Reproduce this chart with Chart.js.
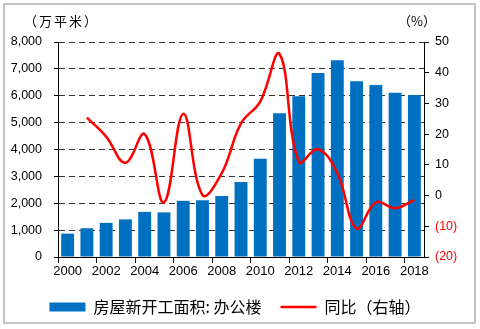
<!DOCTYPE html>
<html>
<head>
<meta charset="utf-8">
<script src="https://cdn.jsdelivr.net/npm/chart.js@4/dist/chart.umd.min.js"></script>
<style>
  body { margin: 0; background: #fff; }
  #wrap { position: relative; width: 480px; height: 329px; }
  #frame { position: absolute; left: 3px; top: 3px; width: 469px; height: 317px; border: 2px solid #c4c4c4; }
  #chart { position: absolute; left: 0; top: 0; }
  .unit { position: absolute; font-family: "Noto Sans CJK SC", sans-serif; font-size: 13px; color: #000; }
</style>
</head>
<body>
<div id="wrap">
  <div id="frame"></div>
  <canvas id="chart" width="480" height="329"></canvas>
  <div class="unit" style="left:24px; top:11px; letter-spacing:2px;">（万平米）</div>
  <div class="unit" style="left:398px; top:11px;">（%）</div>
</div>
<script>
// 办公楼新开工面积（万平米）与同比（%）
const years = ["2000", "2001", "2002", "2003", "2004", "2005", "2006", "2007", "2008", "2009",
  "2010", "2011", "2012", "2013", "2014", "2015", "2016", "2017", "2018"];
const floorArea = [870, 1070, 1270, 1400, 1680, 1660, 2090, 2110, 2270, 2790,
  3660, 5350, 5980, 6850, 7320, 6540, 6400, 6110, 6030];
const yoy = [null, 25.4, 19.2, 10.7, 20.0, -2.3, 26.6, 0.2, 7.3, 23.5,
  30.6, 46.1, 11.0, 15.1, 7.3, -10.7, -2.2, -4.1, -1.4];

Chart.defaults.font.family = "'Liberation Sans', Arial, sans-serif";
Chart.defaults.color = "#000";

const canvas = document.querySelector("#chart");

new Chart(canvas, {
  type: "bar",
  data: {
    labels: years,
    datasets: [{
      type: "bar",
      label: "房屋新开工面积: 办公楼",
      data: floorArea,
      yAxisID: "y",
      backgroundColor: "#0070c0",
      borderWidth: 0,
      pointStyle: "rect",
      categoryPercentage: 1,
      barPercentage: 0.67,
      order: 1
    }, {
      type: "line",
      label: "同比（右轴）",
      data: yoy,
      yAxisID: "y1",
      borderColor: "#ff0000",
      backgroundColor: "#ff0000",
      borderWidth: 2.5,
      pointRadius: 0,
      pointStyle: "line",
      tension: 0.4,
      order: 0
    }]
  },
  options: {
    responsive: false,
    animation: false,
    layout: {
      padding: { top: 42, bottom: 4, left: 0, right: 10 }
    },
    plugins: {
      tooltip: { enabled: false },
      legend: {
        position: "bottom",
        labels: {
          usePointStyle: true,
          pointStyleWidth: 36,
          boxHeight: 9,
          padding: 19,
          color: "#000",
          font: { family: "'Noto Sans CJK SC', sans-serif", size: 16 },
          sort: (a, b) => a.datasetIndex - b.datasetIndex
        }
      }
    },
    scales: {
      x: {
        afterFit: scale => { scale.height = 23; },
        border: { color: "#000", width: 1 },
        grid: {
          drawOnChartArea: false,
          tickLength: 6,
          tickColor: c => c.index % 2 === 0 ? "#000" : "rgba(0,0,0,0)"
        },
        ticks: {
          autoSkip: false,
          maxRotation: 0,
          padding: 1,
          font: { size: 13 },
          callback: (v, i) => i % 2 === 0 ? years[i] : ""
        }
      },
      y: {
        position: "left",
        min: 0,
        max: 8000,
        afterFit: scale => { scale.width = 58; },
        border: { color: "#000", width: 1, dash: [6, 4] },
        grid: {
          color: "#333",
          tickColor: "#000",
          tickBorderDash: [],
          tickLength: 4
        },
        ticks: {
          stepSize: 1000,
          padding: 12,
          font: { size: 12.5 },
          callback: v => v.toLocaleString("en-US")
        }
      },
      y1: {
        position: "right",
        min: -20,
        max: 50,
        afterFit: scale => { scale.width = 46; },
        border: { color: "#000", width: 1 },
        grid: {
          drawOnChartArea: false,
          tickColor: "#000",
          tickLength: 5
        },
        ticks: {
          stepSize: 10,
          padding: 6,
          font: { size: 12.5 },
          color: c => c.tick.value < 0 ? "#ff0000" : "#000",
          callback: v => v < 0 ? "(" + (-v) + ")" : v
        }
      }
    }
  }
});
</script>
</body>
</html>
